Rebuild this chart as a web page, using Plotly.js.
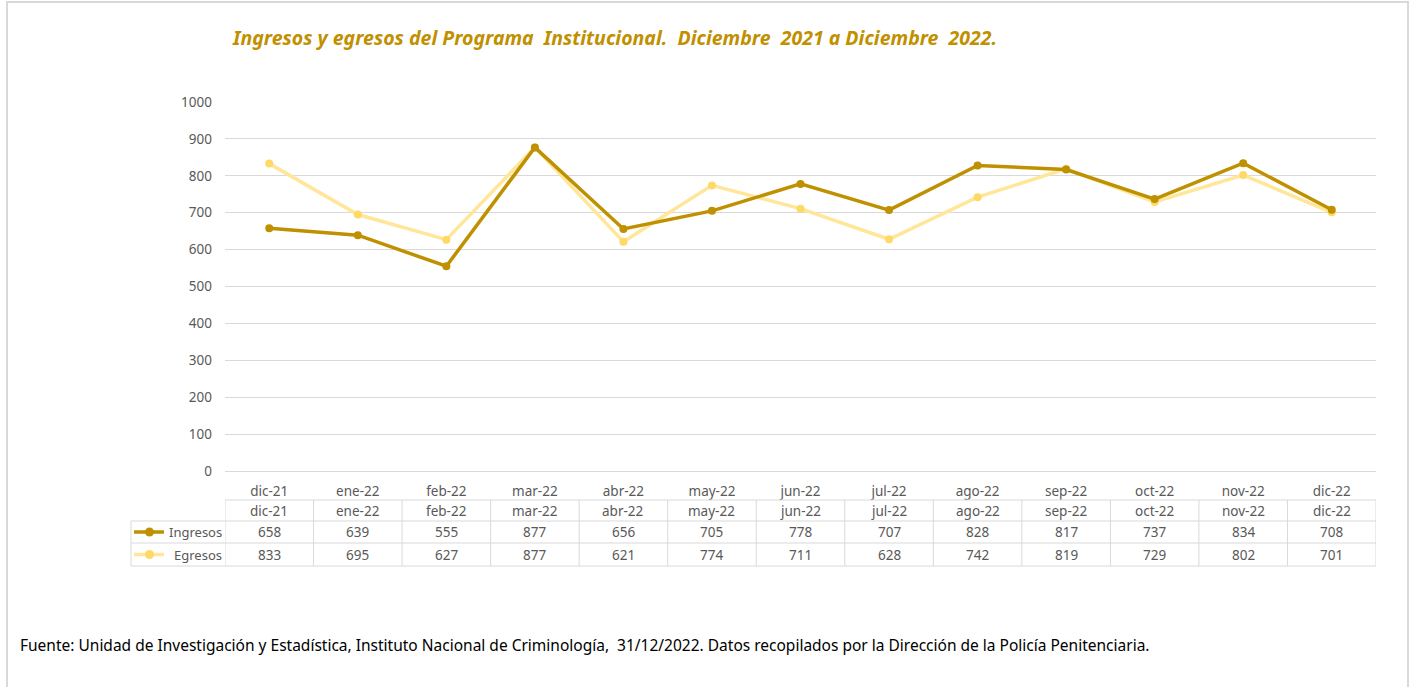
<!DOCTYPE html>
<html><head><meta charset="utf-8">
<script src="https://cdn.plot.ly/plotly-3.0.1.min.js"></script>
<style>html,body{margin:0;padding:0;background:#fff}#c{width:1413px;height:687px}</style>
</head><body><div id="c"></div>
<script>
const months = ["dic-21","ene-22","feb-22","mar-22","abr-22","may-22","jun-22","jul-22","ago-22","sep-22","oct-22","nov-22","dic-22"];
const ingresos = [658,639,555,877,656,705,778,707,828,817,737,834,708];
const egresos  = [833,695,627,877,621,774,711,628,742,819,729,802,701];
const seriesNames = ["Ingresos","Egresos"];
const titleText = "Ingresos y egresos del Programa  Institucional.  Diciembre  2021 a Diciembre  2022.";
const sourceText = "Fuente: Unidad de Investigación y Estadística, Instituto Nacional de Criminología,  31/12/2022. Datos recopilados por la Dirección de la Policía Penitenciaria.";

const gold = "#BF9000", light = "#FFE699", lightMk = "#FFD966";
const W=1413,H=687,L=225,R=1376,T=102,B=471;
const px = p => (p-L)/(R-L);
const py = p => (B-p)/(B-T);
const FONT = "Noto Sans";
const grid = "#d9d9d9";
const TF = 13.5;

const traces = [
  {x: months, y: egresos, name: seriesNames[1], mode:"lines+markers", line:{color:light,width:3.5}, marker:{color:lightMk,size:8}},
  {x: months, y: ingresos, name: seriesNames[0], mode:"lines+markers", line:{color:gold,width:3.5}, marker:{color:gold,size:8}}
];

const shapes = [], ann = [];
shapes.push({type:"rect",xref:"paper",yref:"paper",x0:px(7),x1:px(1408),y0:py(690),y1:py(2),line:{color:"#d9d9d9",width:2}});
const hl = [[500,L],[521,131],[543,131],[566,131]];
hl.forEach(([y,x0])=>shapes.push({type:"line",xref:"paper",yref:"paper",x0:px(x0),x1:px(R),y0:py(y),y1:py(y),line:{color:grid,width:1}}));
for(let i=0;i<=months.length;i++){
  shapes.push({type:"line",xref:"x",yref:"paper",x0:i-0.5,x1:i-0.5,y0:py(500),y1:py(566),line:{color:grid,width:1}});
}
shapes.push({type:"line",xref:"paper",yref:"paper",x0:px(131),x1:px(131),y0:py(521),y1:py(566),line:{color:grid,width:1}});
const rows = [[seriesNames[0],ingresos,532,gold,gold],[seriesNames[1],egresos,554.5,light,lightMk]];
rows.forEach(([nm,vals,yc,lc,mc])=>{
  shapes.push({type:"line",xref:"paper",yref:"paper",x0:px(134),x1:px(164),y0:py(yc),y1:py(yc),line:{color:lc,width:3.5}});
  shapes.push({type:"circle",xref:"paper",yref:"paper",x0:px(145),x1:px(154),y0:py(yc+4.5),y1:py(yc-4.5),fillcolor:mc,line:{color:mc,width:0}});
  ann.push({xref:"paper",yref:"paper",x:px(224),y:py(yc),text:nm,showarrow:false,xanchor:"right",yanchor:"middle",font:{family:FONT,size:13,color:"#595959"}});
  vals.forEach((v,i)=>ann.push({xref:"x",yref:"paper",x:months[i],y:py(yc),text:String(v),showarrow:false,yanchor:"middle",font:{family:FONT,size:TF,color:"#595959"}}));
});
months.forEach(m=>ann.push({xref:"x",yref:"paper",x:m,y:py(510.5),text:m,showarrow:false,yanchor:"middle",font:{family:FONT,size:TF,color:"#595959"}}));
ann.push({xref:"paper",yref:"paper",x:px(230),y:py(38),text:"<b><i>"+titleText+"</i></b>",showarrow:false,xanchor:"left",yanchor:"middle",font:{family:FONT,size:19.5,color:"#C09000"}});
ann.push({xref:"paper",yref:"paper",x:px(18),y:py(645),text:sourceText,showarrow:false,xanchor:"left",yanchor:"middle",font:{family:FONT,size:15.5,color:"#000"}});

const layout = {
  width:W,height:H,margin:{l:L,r:W-R,t:T,b:H-B},
  paper_bgcolor:"#fff",plot_bgcolor:"#fff",showlegend:false,
  xaxis:{type:"category",range:[-0.5,12.5],showgrid:false,zeroline:false,showline:true,linecolor:grid,linewidth:1,ticks:"",
    tickfont:{family:FONT,size:TF,color:"#595959"},ticklabelstandoff:8,fixedrange:true},
  yaxis:{range:[0,1000],dtick:100,showgrid:true,gridcolor:grid,gridwidth:1,zeroline:false,showline:false,ticks:"",
    tickfont:{family:FONT,size:TF,color:"#595959"},ticklabelstandoff:12,fixedrange:true},
  shapes:shapes,annotations:ann
};
Plotly.newPlot("c",traces,layout,{staticPlot:true});
</script></body></html>
